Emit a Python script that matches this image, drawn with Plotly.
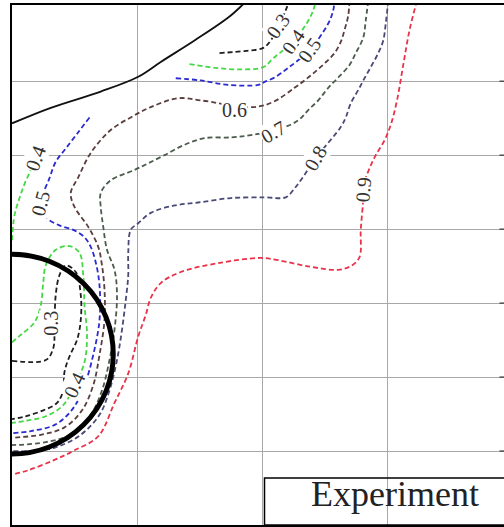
import plotly.graph_objects as go

# ---------------- data (grid units) ----------------
# solid boundary curve (upper left)
bound_x = [0.0, 0.31, 0.71, 1.01, 1.19, 1.46, 1.73, 1.85, 1.95]
bound_y = [5.43, 5.64, 5.86, 6.06, 6.26, 6.55, 6.86, 7.04, 7.20]

# cylinder (thick circle)
cyl_cx, cyl_cy = 0.0, 2.31
cyl_rx, cyl_ry = 0.81, 1.35

# contour 0.3
c03a_x = [1.66, 1.87, 2.01, 2.07, 2.13, 2.19, 2.22]
c03a_y = [6.38, 6.41, 6.45, 6.55, 6.73, 6.96, 7.09]
c03b_x = [0, 0.27, 0.33, 0.34, 0.35, 0.38, 0.43, 0.51, 0.55, 0.55, 0.52, 0.46, 0.42, 0.41, 0.36, 0.25, 0.11, 0]
c03b_y = [2.22, 2.23, 2.39, 2.70, 3.11, 3.38, 3.51, 3.42, 3.11, 2.77, 2.50, 2.28, 2.07, 1.82, 1.65, 1.55, 1.47, 1.43]
# contour 0.4
c04a_x = [1.42, 1.63, 1.83, 2.01, 2.09, 2.23, 2.35, 2.41, 2.43]
c04a_y = [6.23, 6.18, 6.16, 6.19, 6.31, 6.51, 6.76, 6.96, 7.09]
c04b_x = [0, 0.02, 0.06, 0.10, 0.15, 0.19]
c04b_y = [3.85, 4.19, 4.42, 4.61, 4.80, 4.96]
c04c_x = [0, 0.07, 0.18, 0.23, 0.25, 0.27, 0.35, 0.46, 0.54, 0.57, 0.58, 0.60, 0.58, 0.50, 0.41, 0.27, 0.11, 0]
c04c_y = [2.47, 2.57, 2.74, 2.97, 3.28, 3.51, 3.72, 3.77, 3.68, 3.38, 2.97, 2.57, 2.20, 1.89, 1.62, 1.47, 1.41, 1.38]
# contour 0.5
c05a_x = [1.31, 1.51, 1.73, 1.97, 2.02, 2.10, 2.21, 2.38, 2.53, 2.57, 2.58]
c05a_y = [6.04, 6.01, 5.95, 5.95, 5.99, 6.05, 6.18, 6.42, 6.78, 6.96, 7.09]
c05b_x = [0.62, 0.53, 0.43, 0.35, 0.30, 0.23, 0.28, 0.38, 0.49, 0.58, 0.63, 0.67, 0.70, 0.70, 0.65, 0.58, 0.49, 0.35, 0.15, 0]
c05b_y = [5.51, 5.31, 5.09, 4.91, 4.69, 4.35, 4.15, 4.05, 3.99, 3.89, 3.76, 3.55, 3.24, 2.77, 2.30, 1.89, 1.58, 1.36, 1.27, 1.24]
# contour 0.6
c06_x = [2.70, 2.69, 2.66, 2.63, 2.58, 2.50, 2.42, 2.34, 2.26, 2.09, 1.93, 1.51, 1.33, 1.11, 0.95, 0.79, 0.63, 0.53,
         0.47, 0.50, 0.61, 0.69, 0.72, 0.74, 0.74, 0.70, 0.65, 0.56, 0.42, 0.23, 0]
c06_y = [7.09, 6.89, 6.69, 6.53, 6.38, 6.24, 6.12, 6.01, 5.91, 5.72, 5.65, 5.74, 5.77, 5.65, 5.51, 5.34, 5.03, 4.70,
         4.49, 4.30, 4.03, 3.76, 3.51, 3.18, 2.77, 2.30, 1.89, 1.55, 1.32, 1.22, 1.18]
# contour 0.7
c07_x = [2.85, 2.83, 2.81, 2.75, 2.70, 2.61, 2.53, 2.45, 2.37, 2.29, 2.15, 1.91, 1.75, 1.54, 1.38, 1.22, 1.09, 0.98,
         0.79, 0.71, 0.71, 0.73, 0.76, 0.82, 0.84, 0.82, 0.78, 0.72, 0.63, 0.49, 0.27, 0]
c07_y = [7.09, 6.82, 6.59, 6.38, 6.22, 6.05, 5.91, 5.74, 5.61, 5.47, 5.36, 5.27, 5.24, 5.23, 5.14, 5.00, 4.89, 4.80,
         4.66, 4.49, 4.30, 4.03, 3.72, 3.45, 3.11, 2.64, 2.23, 1.82, 1.49, 1.24, 1.12, 1.08]
# contour 0.8
c08_x = [3.01, 2.99, 2.97, 2.93, 2.87, 2.82, 2.77, 2.71, 2.67, 2.63, 2.43, 2.31, 2.26, 2.19, 2.02, 1.75, 1.49, 1.30,
         1.11, 1.01, 0.95, 0.93, 0.93, 0.91, 0.88, 0.84, 0.78, 0.70, 0.55, 0.35, 0.15, 0]
c08_y = [7.09, 6.78, 6.55, 6.38, 6.19, 6.04, 5.88, 5.70, 5.51, 5.38, 4.96, 4.66, 4.55, 4.43, 4.43, 4.42, 4.36, 4.32,
         4.22, 4.08, 3.99, 3.68, 3.38, 3.04, 2.64, 2.23, 1.82, 1.49, 1.22, 1.05, 1.00, 1.00]
# contour 0.9
c09_x = [3.24, 3.18, 3.13, 3.08, 3.03, 2.98, 2.91, 2.86, 2.82, 2.81, 2.79, 2.78, 2.71, 2.61, 2.39, 2.13, 1.99, 1.65,
         1.35, 1.19, 1.11, 1.07, 1.01, 0.93, 0.82, 0.69, 0.50, 0.34, 0.13, 0]
c09_y = [7.09, 6.69, 6.22, 5.74, 5.41, 5.20, 5.00, 4.82, 4.64, 4.39, 3.99, 3.62, 3.50, 3.45, 3.49, 3.58, 3.61, 3.54,
         3.42, 3.27, 3.07, 2.84, 2.55, 2.05, 1.65, 1.20, 1.01, 0.88, 0.74, 0.68]

# contour labels
label_text = ["0.3", "0.4", "0.5", "0.6", "0.7", "0.8", "0.9", "0.4", "0.5", "0.3", "0.4"]
label_x = [2.13, 2.25, 2.38, 1.78, 2.09, 2.43, 2.81, 0.19, 0.23, 0.31, 0.50]
label_y = [6.74, 6.53, 6.42, 5.61, 5.31, 4.96, 4.53, 4.96, 4.35, 2.73, 1.89]
label_angle = [-55, -55, -55, 0, -30, -60, -85, -70, -75, -90, -65]

grid_x = [1, 2, 3]
grid_y = [1, 2, 3, 4, 5, 6]
x_range = [0, 3.936]
y_range = [0, 7.03]

box_text = "Experiment"

# ---------------- styling ----------------
colors = {
    "0.3": "#1e1e1e",
    "0.4": "#45d845",
    "0.5": "#2b2bd0",
    "0.6": "#5a3e3e",
    "0.7": "#4c5c4c",
    "0.8": "#4a4a78",
    "0.9": "#e8334a",
}
segments = [
    ("0.3", c03a_x, c03a_y), ("0.3", c03b_x, c03b_y),
    ("0.4", c04a_x, c04a_y), ("0.4", c04b_x, c04b_y), ("0.4", c04c_x, c04c_y),
    ("0.5", c05a_x, c05a_y), ("0.5", c05b_x, c05b_y),
    ("0.6", c06_x, c06_y), ("0.7", c07_x, c07_y), ("0.8", c08_x, c08_y), ("0.9", c09_x, c09_y),
]

fig = go.Figure()
for lvl, xs, ys in segments:
    fig.add_trace(go.Scatter(x=xs, y=ys, mode="lines", line_shape="spline",
                             line=dict(color=colors[lvl], width=1.8, dash="5px,3px"),
                             hoverinfo="skip", showlegend=False))

fig.add_trace(go.Scatter(x=bound_x, y=bound_y, mode="lines", line_shape="spline",
                         line=dict(color="#111111", width=1.8), hoverinfo="skip", showlegend=False))

shapes = [
    dict(type="circle", xref="x", yref="y",
         x0=cyl_cx - cyl_rx, x1=cyl_cx + cyl_rx, y0=cyl_cy - cyl_ry, y1=cyl_cy + cyl_ry,
         line=dict(color="black", width=5), layer="above"),
    dict(type="rect", xref="x", yref="y", x0=2.02, x1=4.2, y0=0, y1=0.635,
         line=dict(color="black", width=1.5), fillcolor="rgba(0,0,0,0)", layer="above"),
]
for gy in grid_y:
    shapes.append(dict(type="line", xref="x", yref="y", x0=3.90, x1=3.936, y0=gy, y1=gy,
                       line=dict(color="#333", width=1.2)))

annotations = []
for t, ax_, ay_, ang in zip(label_text, label_x, label_y, label_angle):
    annotations.append(dict(x=ax_, y=ay_, xref="x", yref="y", text=t, showarrow=False,
                            textangle=ang, bgcolor="white", borderpad=0,
                            font=dict(family="Liberation Serif", size=20, color="#333")))
annotations.append(dict(x=3.06, y=0.42, xref="x", yref="y", text=box_text, showarrow=False,
                        font=dict(family="Liberation Serif", size=36, color="#222")))

fig.update_layout(
    width=504, height=527,
    margin=dict(l=12, r=0, t=5, b=2),
    paper_bgcolor="white", plot_bgcolor="white",
    shapes=shapes, annotations=annotations, showlegend=False,
    xaxis=dict(range=x_range, tickvals=grid_x, showticklabels=False, ticks="",
               showgrid=True, gridcolor="#a8a8a8", gridwidth=1, zeroline=False,
               showline=True, linecolor="black", linewidth=2, mirror=True),
    yaxis=dict(range=y_range, tickvals=grid_y, showticklabels=False, ticks="",
               showgrid=True, gridcolor="#a8a8a8", gridwidth=1, zeroline=False,
               showline=True, linecolor="black", linewidth=2, mirror=False),
)

fig.write_html("out.html")
